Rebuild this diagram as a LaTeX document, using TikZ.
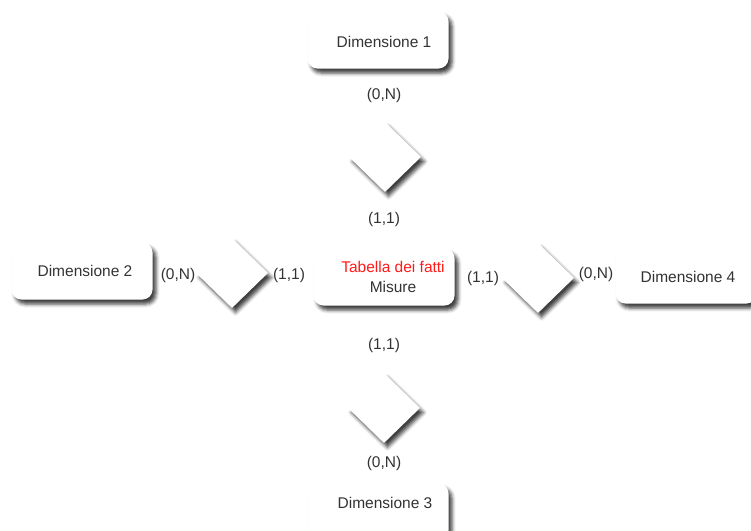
\documentclass[tikz,border=0pt]{standalone}
\usepackage{fontspec}
\setmainfont{Liberation Sans}
\usetikzlibrary{shapes.geometric,shadows.blur}

\definecolor{testo}{HTML}{333333}
\definecolor{rosso}{HTML}{FF1A1A}

\tikzset{
  ombra/.style={blur shadow={shadow xshift=3.5pt, shadow yshift=-4.5pt, shadow blur radius=3.5pt, shadow opacity=75}},
  tabella/.style={rectangle, rounded corners=10pt, fill=white, minimum width=141pt, minimum height=57pt, ombra},
  relazione/.style={diamond, fill=white, minimum width=72pt, minimum height=70pt, inner sep=0pt, ombra},
  card/.style={inner sep=0pt},
}

\begin{document}
\begin{tikzpicture}[x=1pt, y=-1pt, font=\fontsize{15.5}{20}\selectfont, text=testo]
  \useasboundingbox (0,0) rectangle (751,530);
  \clip (0,0) rectangle (751,530);

  %% relazioni (rombi)
  \node [relazione] (r1) at (385,157) {};
  \node [relazione] (r2) at (232,273) {};
  \node [relazione] (r4) at (538,278) {};
  \node [relazione] (r3) at (384,408) {};

  %% tabelle, testo un po' spostato a destra
  \node [tabella, label={[xshift=6pt, yshift=-2pt]center:Dimensione 1}] (d1) at (378,40) {};
  \node [tabella, label={[xshift=3pt]center:Dimensione 2}] (d2) at (82,271) {};
  \node [tabella, label={[xshift=7pt, yshift=9pt]center:Dimensione 3}] (d3) at (378,512) {};
  \node [tabella, label={[xshift=2pt, yshift=-2pt]center:Dimensione 4}] (d4) at (686,275) {};
  \node [tabella, label={[xshift=9pt, align=center]center:\textcolor{rosso}{Tabella dei fatti}\\Misure}] (fatti) at (384,277) {};

  %% cardinalita
  \node [card] (c1a) at (384,95) {(0,N)};
  \node [card] (c1b) at (384,219) {(1,1)};
  \node [card] (c2a) at (178,275) {(0,N)};
  \node [card] (c2b) at (289,275) {(1,1)};
  \node [card] (c4b) at (483,278) {(1,1)};
  \node [card] (c4a) at (596,274) {(0,N)};
  \node [card] (c3b) at (384,345) {(1,1)};
  \node [card] (c3a) at (384,463) {(0,N)};
\end{tikzpicture}
\end{document}
